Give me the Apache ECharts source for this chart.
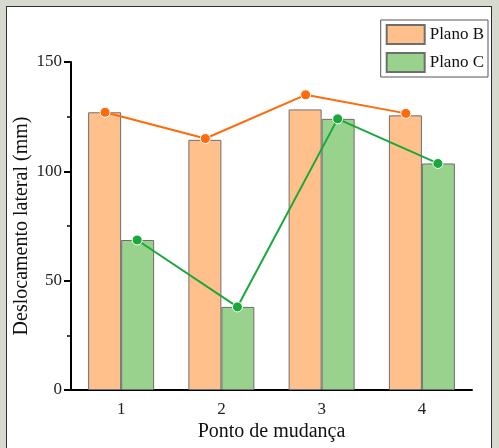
<!DOCTYPE html>
<html>
<head>
<meta charset="utf-8">
<script src="https://cdn.jsdelivr.net/npm/echarts@6/dist/echarts.min.js"></script>
<style>
  html, body { margin: 0; padding: 0; }
  body { width: 499px; height: 448px; background: #d6d9cd; position: relative; overflow: hidden; }
  #panel { position: absolute; left: 6px; top: 6px; width: 484px; height: 470px; background: #fff; border: 1.5px solid #2e2e2e; }
  #chart { position: absolute; left: 0; top: 0; width: 499px; height: 448px; }
</style>
</head>
<body>
<div id="panel"></div>
<div id="chart"></div>
<script>
// Change points and measured lateral displacement (mm)
const categories = ['1', '2', '3', '4'];
const planoBBars = [127.0, 114.4, 128.3, 125.6];
const planoCBars = [68.6, 38.0, 124.0, 103.6];
const planoBLine = [127.0, 115.0, 135.0, 126.5];
const planoCLine = [68.6, 38.0, 124.0, 103.6];
const yTicks = [0, 50, 100, 150];

// Markers sit over the centre of their own bar within each group
const barShift = 0.16;
const toPoints = (vals, shift) => vals.map((v, i) => [i + 1 + shift, v]);

const serif = 'Liberation Serif';
const chart = echarts.init(document.getElementById('chart'));

chart.setOption({
  backgroundColor: 'transparent',
  animation: false,
  grid: { left: 71, right: 27, top: 62, bottom: 58, containLabel: false, outerBoundsMode: 'none' },
  legend: {
    data: ['Plano B', 'Plano C'],
    orient: 'vertical',
    right: 11,
    top: 20,
    itemWidth: 38,
    itemHeight: 19,
    itemGap: 7,
    padding: [4, 4, 4, 5],
    icon: 'rect',
    borderColor: '#555',
    borderWidth: 1,
    backgroundColor: '#fff',
    textStyle: { fontFamily: serif, fontSize: 17, color: '#111' }
  },
  xAxis: [
    {
      type: 'category',
      data: categories,
      name: 'Ponto de mudança',
      nameLocation: 'middle',
      nameGap: 32,
      nameMoveOverlap: false,
      nameTextStyle: { fontFamily: serif, fontSize: 20, color: '#111' },
      axisLine: { lineStyle: { color: '#000', width: 2 } },
      axisTick: { inside: false, alignWithLabel: true, length: 7, lineStyle: { color: '#000', width: 2 } },
      axisLabel: { fontFamily: serif, fontSize: 17, color: '#222', margin: 11 }
    },
    {
      type: 'category',
      data: categories,
      position: 'bottom',
      axisLine: { show: false },
      axisTick: { inside: false, length: 4, lineStyle: { color: '#000', width: 1.5 } },
      axisLabel: { show: false }
    },
    {
      type: 'value',
      min: 0.5,
      max: 4.5,
      show: false
    }
  ],
  yAxis: {
    type: 'value',
    min: yTicks[0],
    max: yTicks[yTicks.length - 1],
    interval: yTicks[1] - yTicks[0],
    name: 'Deslocamento lateral (mm)',
    nameLocation: 'middle',
    nameGap: 39,
    nameMoveOverlap: false,
    nameTextStyle: { fontFamily: serif, fontSize: 20, color: '#111' },
    axisLine: { show: true, lineStyle: { color: '#000', width: 2 } },
    axisTick: { show: true, inside: false, length: 7, lineStyle: { color: '#000', width: 2 } },
    minorTick: { show: true, splitNumber: 2, length: 4, lineStyle: { color: '#000', width: 1.5 } },
    splitLine: { show: false },
    axisLabel: { fontFamily: serif, fontSize: 17, color: '#222', margin: 9 }
  },
  series: [
    {
      name: 'Plano B',
      type: 'bar',
      data: planoBBars,
      barWidth: 33,
      barGap: '0%',
      itemStyle: { color: '#ffc08c', borderColor: '#6e6e6e', borderWidth: 1 }
    },
    {
      name: 'Plano C',
      type: 'bar',
      data: planoCBars,
      barWidth: 33,
      barGap: '0%',
      itemStyle: { color: '#98d28c', borderColor: '#6e6e6e', borderWidth: 1 }
    },
    {
      name: 'Plano B (pontos)',
      type: 'line',
      xAxisIndex: 2,
      data: toPoints(planoBLine, -barShift),
      symbol: 'circle',
      symbolSize: 10,
      lineStyle: { color: '#ff6a0a', width: 2 },
      itemStyle: { color: '#ff6a0a', borderColor: '#fff', borderWidth: 1 },
      z: 5
    },
    {
      name: 'Plano C (pontos)',
      type: 'line',
      xAxisIndex: 2,
      data: toPoints(planoCLine, barShift),
      symbol: 'circle',
      symbolSize: 10,
      lineStyle: { color: '#19a83c', width: 2 },
      itemStyle: { color: '#19a83c', borderColor: '#fff', borderWidth: 1 },
      z: 5
    }
  ]
});
</script>
</body>
</html>
